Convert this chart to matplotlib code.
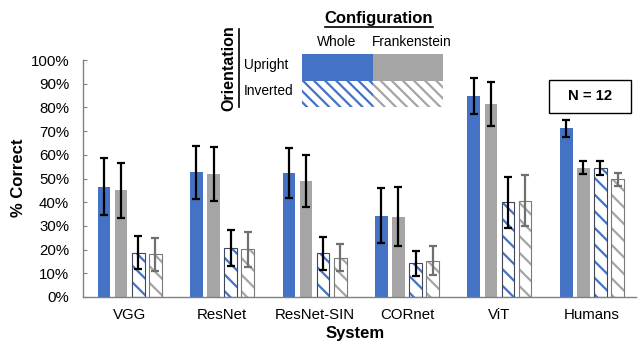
import matplotlib
matplotlib.use("Agg")
import matplotlib.pyplot as plt
import numpy as np
from matplotlib.patches import Rectangle

plt.rcParams['font.family'] = ['Liberation Sans', 'DejaVu Sans']
plt.rcParams['hatch.linewidth'] = 1.6

systems = ["VGG", "ResNet", "ResNet-SIN", "CORnet", "ViT", "Humans"]
whole_upright = [46.5, 52.6, 52.2, 34.3, 84.8, 71.2]
whole_upright_err = [12.0, 11.3, 10.6, 11.7, 7.4, 3.5]
frank_upright = [45.0, 51.8, 48.9, 33.9, 81.4, 54.6]
frank_upright_err = [11.7, 11.4, 10.9, 12.5, 9.3, 2.8]
whole_inverted = [18.7, 20.5, 18.4, 14.2, 40.0, 54.4]
whole_inverted_err = [7.0, 7.6, 7.0, 5.3, 10.8, 2.8]
frank_inverted = [18.0, 20.1, 16.6, 15.3, 40.6, 49.7]
frank_inverted_err = [7.0, 7.5, 5.8, 6.1, 10.7, 2.7]
yticks = [0, 10, 20, 30, 40, 50, 60, 70, 80, 90, 100]

BLUE = "#4472C4"
GRAY = "#A5A5A5"

W, H = 638, 341
fig = plt.figure(figsize=(W / 100, H / 100), dpi=100)
ax = fig.add_axes([83 / W, 1 - 297 / H, (636 - 83) / W, (297 - 60) / H])

x = np.arange(len(systems))
bw = 0.14
off = 0.184
series = [
    (whole_upright, whole_upright_err, BLUE, None, "black"),
    (frank_upright, frank_upright_err, GRAY, None, "black"),
    (whole_inverted, whole_inverted_err, BLUE, "\\\\", "black"),
    (frank_inverted, frank_inverted_err, GRAY, "\\\\", "#707070"),
]
outline = {BLUE: "#404858", GRAY: "#7a7a7a"}
for k, (vals, errs, col, hatch, ecol) in enumerate(series):
    pos = x + (k - 1.5) * off
    if hatch is None:
        ax.bar(pos, vals, width=bw, color=col, edgecolor="none", zorder=2)
    else:
        ax.bar(pos, vals, width=bw, color="white", edgecolor=col, hatch=hatch,
               linewidth=0, zorder=2)
        ax.bar(pos, vals, width=bw, fill=False, edgecolor=outline[col],
               linewidth=0.8, zorder=3)
    ax.errorbar(pos, vals, yerr=errs, fmt="none", ecolor=ecol, elinewidth=1.6,
                capsize=3, capthick=1.6, zorder=4)

ax.set_xlim(-0.503, 5.476)
ax.set_ylim(0, 100)
ax.set_yticks(yticks)
ax.set_yticklabels([f"{t}%" for t in yticks], fontsize=10.8)
ax.set_xticks(x)
ax.set_xticklabels(systems, fontsize=10.8)
ax.tick_params(axis="x", length=0, pad=8)
ax.tick_params(axis="y", direction="in", length=3, color="#808080", pad=10)
for s in ["top", "right"]:
    ax.spines[s].set_visible(False)
for s in ["left", "bottom"]:
    ax.spines[s].set_color("#808080")
    ax.spines[s].set_linewidth(1.0)
ax.set_xlabel("System", fontsize=12, fontweight="bold")
ax.xaxis.set_label_coords((355 - 83) / 553, -0.122)
ax.set_ylabel("% Correct", fontsize=12, fontweight="bold", va="center")
ax.yaxis.set_label_coords((19 - 83) / 553, 0.502)

# overlay for legend and annotations, in pixel coordinates
ov = fig.add_axes([0, 0, 1, 1], zorder=10)
ov.set_xlim(0, W)
ov.set_ylim(H, 0)
ov.axis("off")
ov.patch.set_alpha(0)

ov.text(379, 18, "Configuration", fontsize=12, fontweight="bold", ha="center", va="center")
ov.plot([325, 433], [26.5, 26.5], color="black", lw=1.2)
ov.text(337, 41.5, "Whole", fontsize=9.9, ha="center", va="center")
ov.text(411.5, 41.5, "Frankenstein", fontsize=9.9, ha="center", va="center")
ov.text(266.5, 65, "Upright", fontsize=9.9, ha="center", va="center")
ov.text(268.5, 91, "Inverted", fontsize=9.9, ha="center", va="center")
ov.text(229, 68, "Orientation", fontsize=11.5, fontweight="bold", ha="center",
        va="center", rotation=90)
ov.plot([239, 239], [29, 107], color="black", lw=1.2)

ov.add_patch(Rectangle((302, 54), 71, 27, facecolor=BLUE, edgecolor="none"))
ov.add_patch(Rectangle((373, 54), 70, 27, facecolor=GRAY, edgecolor="none"))
ov.add_patch(Rectangle((302, 81), 71, 26, facecolor="white", edgecolor=BLUE,
                       hatch="\\\\\\", linewidth=0))
ov.add_patch(Rectangle((373, 81), 70, 26, facecolor="white", edgecolor=GRAY,
                       hatch="\\\\\\", linewidth=0))

ov.add_patch(Rectangle((549, 80), 82, 33, facecolor="white", edgecolor="black", linewidth=1.0))
ov.text(590, 96.5, "N = 12", fontsize=10.7, fontweight="bold", ha="center", va="center")

fig.savefig("out.png", dpi=100)
